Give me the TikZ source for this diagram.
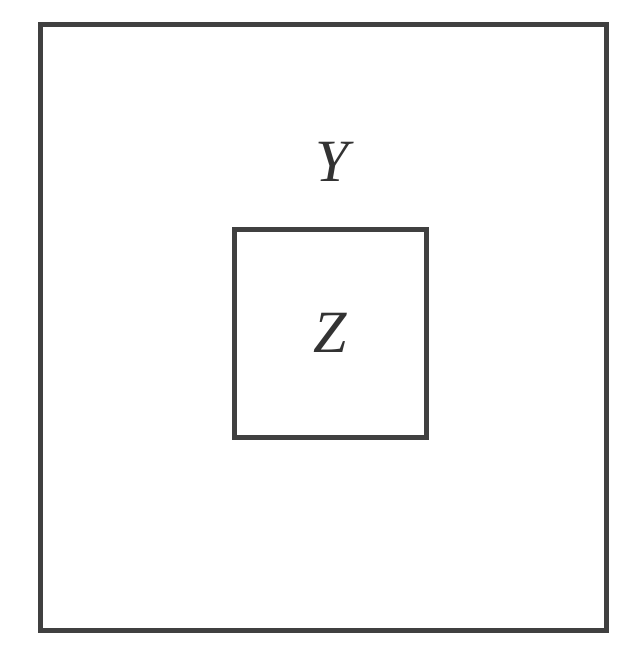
\documentclass[tikz,border=0pt]{standalone}
\usepackage{fontspec}
\setmainfont{Liberation Serif}
\begin{document}
\begin{tikzpicture}[x=1pt,y=-1pt,
  box/.style={draw=black!75,line width=5pt},
  lbl/.style={font=\fontsize{60}{68}\selectfont\itshape, text=black!80}]
\useasboundingbox (0,0) rectangle (626,648);
\draw[box] (40,24) rectangle (606,630);
\node[box,minimum width=192,minimum height=208,inner sep=0pt] (z) at (330,333) {};
\node[lbl] (zl) at (z.center) {Z};
\node[lbl] (y) at (332,162) {Y};
\end{tikzpicture}
\end{document}
